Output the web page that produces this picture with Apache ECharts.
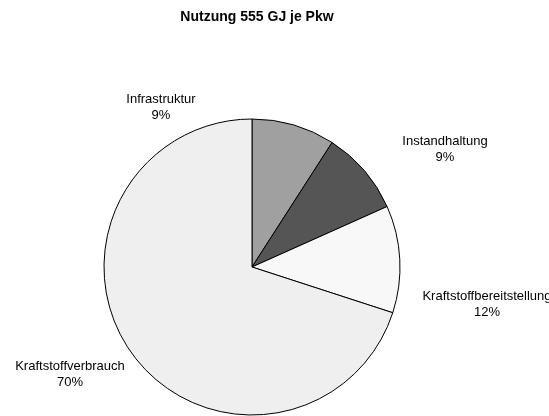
<!DOCTYPE html>
<html>
<head>
<meta charset="utf-8">
<script src="https://cdn.jsdelivr.net/npm/echarts@6/dist/echarts.min.js"></script>
<style>
html, body { margin: 0; padding: 0; background: #fff; }
#chart { width: 549px; height: 416px; }
</style>
</head>
<body>
<div id="chart"></div>
<script>
// Anteile am Energieverbrauch (Prozent)
const names = ['Infrastruktur', 'Instandhaltung', 'Kraftstoffbereitstellung', 'Kraftstoffverbrauch'];
const values = [9.1, 9.2, 11.7, 70.0];
const colors = ['#a0a0a0', '#555555', '#f8f8f8', '#efefef'];

// Label-Positionen wie im Original (x, y Mitte)
const labelPos = [[161, 107], [445, 149], [487, 304], [70, 374]];

function getdata() {
    let data = [];
    for (let i = 0; i < names.length; ++i) {
        data.push({value: values[i], name: names[i], itemStyle: {color: colors[i]}});
    }
    return data;
}

echarts.init(document.getElementById('chart')).setOption({
    animation: false,
    title: {
        text: 'Nutzung 555 GJ je Pkw',
        left: 252,
        top: 5,
        textAlign: 'center',
        textStyle: {
            fontFamily: 'Liberation Sans',
            fontSize: 14,
            fontWeight: 'bold',
            color: '#000'
        }
    },
    series: [{
        type: 'pie',
        center: [252, 267],
        radius: 148,
        startAngle: 90,
        clockwise: true,
        percentPrecision: 0,
        data: getdata(),
        itemStyle: {
            borderColor: '#000',
            borderWidth: 1
        },
        emphasis: {disabled: true},
        label: {
            show: true,
            position: 'outside',
            formatter: '{b}\n{d}%',
            fontFamily: 'Liberation Sans',
            fontSize: 13,
            lineHeight: 16,
            color: '#000',
            align: 'center',
            overflow: 'none',
            width: 200
        },
        labelLine: {show: false},
        labelLayout: function(p) {
            let pos = labelPos[p.dataIndex];
            return {x: pos[0], y: pos[1], align: 'center', verticalAlign: 'middle'};
        }
    }]
});
</script>
</body>
</html>
